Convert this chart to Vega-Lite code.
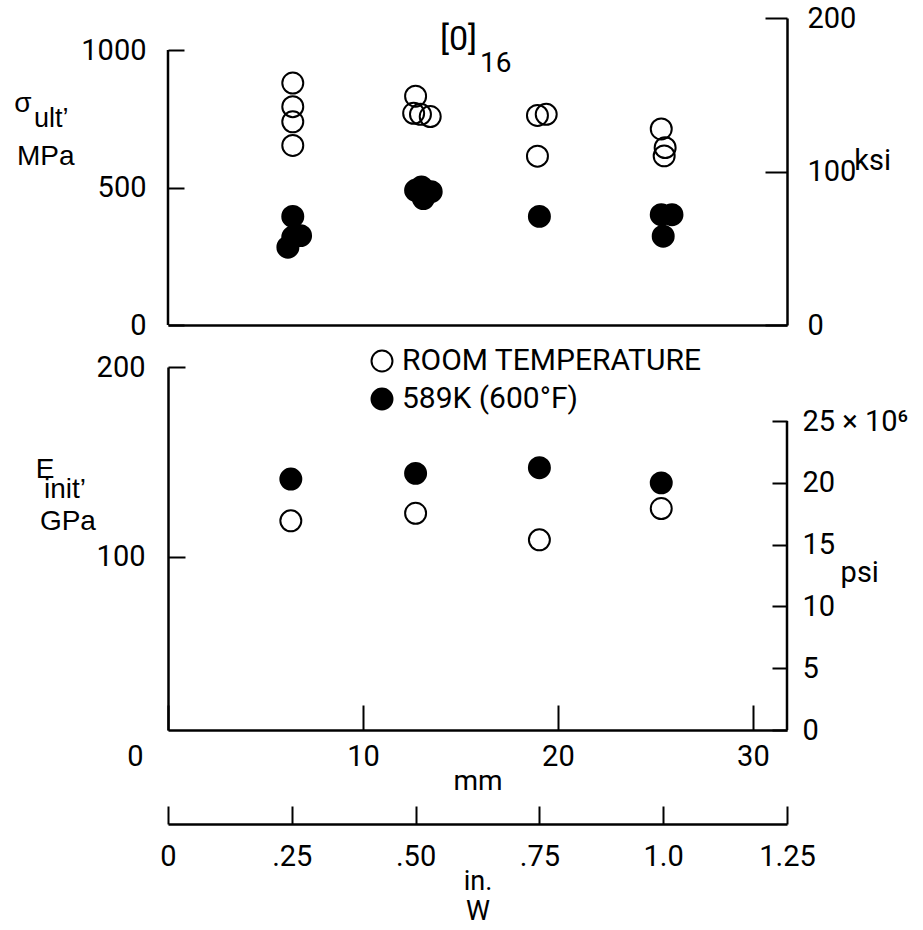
{
  "$schema": "https://vega.github.io/schema/vega-lite/v6.json",
  "padding": {"left": 14, "top": 4, "right": 5, "bottom": 2},
  "bounds": "flush",
  "spacing": 42,
  "resolve": {"legend": {"fill": "independent"}},
  "config": {
    "view": {"stroke": null},
    "font": "Roboto, sans-serif",
    "axis": {
      "grid": false,
      "domainColor": "black",
      "domainWidth": 2.5,
      "tickColor": "black",
      "tickWidth": 2,
      "labelColor": "black",
      "labelFont": "Roboto, sans-serif",
      "labelFontSize": 29,
      "labelFlush": false,
      "titleColor": "black",
      "titleFont": "Roboto, sans-serif",
      "titleFontSize": 28,
      "titleFontWeight": "normal"
    },
    "legend": {
      "labelFont": "Roboto, sans-serif",
      "labelFontSize": 30,
      "labelColor": "black"
    }
  },
  "datasets": {
    "sigma": [
      {"w": 6.4, "mpa": 880, "cond": "ROOM TEMPERATURE"},
      {"w": 6.4, "mpa": 794, "cond": "ROOM TEMPERATURE"},
      {"w": 6.4, "mpa": 739, "cond": "ROOM TEMPERATURE"},
      {"w": 6.4, "mpa": 653, "cond": "ROOM TEMPERATURE"},
      {"w": 12.7, "mpa": 832, "cond": "ROOM TEMPERATURE"},
      {"w": 12.6, "mpa": 770, "cond": "ROOM TEMPERATURE"},
      {"w": 12.95, "mpa": 766, "cond": "ROOM TEMPERATURE"},
      {"w": 13.45, "mpa": 758, "cond": "ROOM TEMPERATURE"},
      {"w": 18.95, "mpa": 762, "cond": "ROOM TEMPERATURE"},
      {"w": 19.4, "mpa": 766, "cond": "ROOM TEMPERATURE"},
      {"w": 18.95, "mpa": 614, "cond": "ROOM TEMPERATURE"},
      {"w": 25.3, "mpa": 713, "cond": "ROOM TEMPERATURE"},
      {"w": 25.5, "mpa": 645, "cond": "ROOM TEMPERATURE"},
      {"w": 25.45, "mpa": 615, "cond": "ROOM TEMPERATURE"},
      {"w": 6.4, "mpa": 395, "cond": "589K (600°F)"},
      {"w": 6.4, "mpa": 320, "cond": "589K (600°F)"},
      {"w": 6.15, "mpa": 283, "cond": "589K (600°F)"},
      {"w": 6.8, "mpa": 325, "cond": "589K (600°F)"},
      {"w": 12.7, "mpa": 490, "cond": "589K (600°F)"},
      {"w": 13.0, "mpa": 502, "cond": "589K (600°F)"},
      {"w": 13.5, "mpa": 485, "cond": "589K (600°F)"},
      {"w": 13.1, "mpa": 460, "cond": "589K (600°F)"},
      {"w": 19.05, "mpa": 395, "cond": "589K (600°F)"},
      {"w": 25.3, "mpa": 401, "cond": "589K (600°F)"},
      {"w": 25.85, "mpa": 401, "cond": "589K (600°F)"},
      {"w": 25.4, "mpa": 323, "cond": "589K (600°F)"}
    ],
    "modulus": [
      {"w": 6.3, "gpa": 119, "cond": "ROOM TEMPERATURE"},
      {"w": 12.7, "gpa": 123, "cond": "ROOM TEMPERATURE"},
      {"w": 19.05, "gpa": 109, "cond": "ROOM TEMPERATURE"},
      {"w": 25.3, "gpa": 125.5, "cond": "ROOM TEMPERATURE"},
      {"w": 6.3, "gpa": 141, "cond": "589K (600°F)"},
      {"w": 12.7, "gpa": 144, "cond": "589K (600°F)"},
      {"w": 19.05, "gpa": 147, "cond": "589K (600°F)"},
      {"w": 25.3, "gpa": 139, "cond": "589K (600°F)"}
    ],
    "inch": [{"inch": 0}, {"inch": 1.25}],
    "one": [{}]
  },
  "vconcat": [
    {
      "width": 619,
      "height": 307,
      "resolve": {"scale": {"y": "independent"}, "axis": {"y": "independent"}},
      "layer": [
        {
          "layer": [
            {
              "data": {"name": "one"},
              "mark": {"type": "rule", "color": "black", "strokeWidth": 2.5},
              "encoding": {
                "x": {"datum": 0, "type": "quantitative"},
                "y": {"datum": 0, "type": "quantitative"},
                "y2": {"datum": 1000}
              }
            },
            {
              "data": {"name": "sigma"},
              "mark": {"type": "point", "shape": "circle", "size": 440, "strokeWidth": 2, "stroke": "black", "opacity": 1, "filled": false},
              "encoding": {
                "x": {"field": "w", "type": "quantitative", "scale": {"domain": [0, 31.75], "nice": false, "zero": false},
                  "axis": {"title": null, "labels": false, "ticks": false, "domain": true}},
                "y": {"field": "mpa", "type": "quantitative", "scale": {"domain": [0, 1116.4], "nice": false, "zero": false},
                  "axis": {"title": null, "orient": "left", "values": [0, 500, 1000], "format": "d", "domain": false, "tickSize": -16, "labelPadding": 38}},
                "fill": {"field": "cond", "type": "nominal",
                  "scale": {"domain": ["ROOM TEMPERATURE", "589K (600°F)"], "range": ["transparent", "black"]},
                  "legend": null}
              }
            },
            {
              "data": {"name": "one"},
              "mark": {"type": "text", "font": "Liberation Sans, Arial, sans-serif", "fontSize": 28, "align": "center", "baseline": "alphabetic", "color": "black"},
              "encoding": {"x": {"datum": -7.44, "type": "quantitative"}, "y": {"datum": 774, "type": "quantitative"}, "text": {"value": "σ"}}
            },
            {
              "data": {"name": "one"},
              "mark": {"type": "text", "font": "Liberation Sans, Arial, sans-serif", "fontSize": 27, "align": "left", "baseline": "alphabetic", "color": "black"},
              "encoding": {"x": {"datum": -6.87, "type": "quantitative"}, "y": {"datum": 720, "type": "quantitative"}, "text": {"value": "ult’"}}
            },
            {
              "data": {"name": "one"},
              "mark": {"type": "text", "font": "Liberation Sans, Arial, sans-serif", "fontSize": 28, "align": "left", "baseline": "alphabetic", "color": "black"},
              "encoding": {"x": {"datum": -7.75, "type": "quantitative"}, "y": {"datum": 582, "type": "quantitative"}, "text": {"value": "MPa"}}
            },
            {
              "data": {"name": "one"},
              "mark": {"type": "text", "fontSize": 34, "align": "left", "baseline": "alphabetic", "color": "black"},
              "encoding": {"x": {"datum": 13.95, "type": "quantitative"}, "y": {"datum": 1000, "type": "quantitative"}, "text": {"value": "[0]"}}
            },
            {
              "data": {"name": "one"},
              "mark": {"type": "text", "fontSize": 28, "align": "left", "baseline": "alphabetic", "color": "black"},
              "encoding": {"x": {"datum": 16.0, "type": "quantitative"}, "y": {"datum": 920, "type": "quantitative"}, "text": {"value": "16"}}
            },
            {
              "data": {"name": "one"},
              "mark": {"type": "text", "fontSize": 29, "align": "left", "baseline": "alphabetic", "color": "black"},
              "encoding": {"x": {"datum": 35.2, "type": "quantitative"}, "y": {"datum": 564, "type": "quantitative"}, "text": {"value": "ksi"}}
            }
          ]
        },
        {
          "data": {"name": "one"},
          "mark": {"type": "rule", "color": "black", "strokeWidth": 0},
          "encoding": {
            "x": {"datum": 31.75, "type": "quantitative"},
            "y": {"datum": 0, "type": "quantitative", "scale": {"domain": [0, 200], "nice": false, "zero": false},
              "axis": {"title": null, "orient": "right", "values": [0, 100, 200], "domain": true, "tickSize": -22, "labelPadding": 42}},
            "y2": {"datum": 200}
          }
        }
      ]
    },
    {
      "width": 619,
      "height": 363,
      "resolve": {"scale": {"y": "independent"}, "axis": {"y": "independent"}},
      "layer": [
        {
          "layer": [
            {
              "data": {"name": "modulus"},
              "mark": {"type": "point", "shape": "circle", "size": 440, "strokeWidth": 2, "stroke": "black", "opacity": 1, "filled": false},
              "encoding": {
                "x": {"field": "w", "type": "quantitative", "scale": {"domain": [0, 31.75], "nice": false, "zero": false},
                  "axis": {"title": "mm", "values": [0, 10, 20, 30], "tickSize": -25, "labelPadding": 37, "titlePadding": -4,
                    "labelOffset": {"condition": {"test": "datum.value === 0", "value": -33}, "value": 0}}},
                "y": {"field": "gpa", "type": "quantitative", "scale": {"domain": [8.9, 200], "nice": false, "zero": false},
                  "axis": {"title": null, "orient": "left", "values": [100, 200], "domain": true, "tickSize": -17, "labelPadding": 40}},
                "fill": {"field": "cond", "type": "nominal",
                  "scale": {"domain": ["ROOM TEMPERATURE", "589K (600°F)"], "range": ["transparent", "black"]},
                  "legend": {"title": null, "orient": "none", "legendX": 199, "legendY": -21, "symbolType": "circle", "symbolSize": 440,
                    "symbolStrokeColor": "black", "symbolStrokeWidth": 2, "labelFontSize": 30, "labelLimit": 500, "rowPadding": 8, "labelOffset": 5}}
              }
            },
            {
              "data": {"name": "one"},
              "mark": {"type": "text", "font": "Liberation Sans, Arial, sans-serif", "fontSize": 28, "align": "center", "baseline": "alphabetic", "color": "black"},
              "encoding": {"x": {"datum": -6.31, "type": "quantitative"}, "y": {"datum": 141.5, "type": "quantitative"}, "text": {"value": "E"}}
            },
            {
              "data": {"name": "one"},
              "mark": {"type": "text", "font": "Liberation Sans, Arial, sans-serif", "fontSize": 28, "align": "left", "baseline": "alphabetic", "color": "black"},
              "encoding": {"x": {"datum": -6.36, "type": "quantitative"}, "y": {"datum": 131, "type": "quantitative"}, "text": {"value": "init’"}}
            },
            {
              "data": {"name": "one"},
              "mark": {"type": "text", "font": "Liberation Sans, Arial, sans-serif", "fontSize": 28, "align": "left", "baseline": "alphabetic", "color": "black"},
              "encoding": {"x": {"datum": -6.57, "type": "quantitative"}, "y": {"datum": 114.2, "type": "quantitative"}, "text": {"value": "GPa"}}
            },
            {
              "data": {"name": "one"},
              "mark": {"type": "text", "fontSize": 29, "align": "left", "baseline": "alphabetic", "color": "black"},
              "encoding": {"x": {"datum": 34.5, "type": "quantitative"}, "y": {"datum": 86.8, "type": "quantitative"}, "text": {"value": "psi"}}
            }
          ]
        },
        {
          "data": {"name": "one"},
          "mark": {"type": "rule", "color": "black", "strokeWidth": 2.5},
          "encoding": {
            "x": {"datum": 31.75, "type": "quantitative"},
            "y": {"datum": 0, "type": "quantitative", "scale": {"domain": [0, 29.37], "nice": false, "zero": false},
              "axis": {"title": null, "orient": "right", "values": [0, 5, 10, 15, 20, 25], "domain": false, "tickSize": -15, "labelPadding": 30,
                "labelExpr": "datum.value === 25 ? '25 × 10⁶' : datum.label"}},
            "y2": {"datum": 25}
          }
        }
      ]
    },
    {
      "width": 619,
      "height": 52,
      "data": {"name": "inch"},
      "mark": {"type": "point", "opacity": 0},
      "encoding": {
        "x": {"field": "inch", "type": "quantitative", "scale": {"domain": [0, 1.25], "nice": false, "zero": false},
          "axis": {"title": ["in.", "W"], "values": [0, 0.25, 0.5, 0.75, 1, 1.25], "tickSize": -18, "labelPadding": 36, "titlePadding": -3, "titleLineHeight": 30, "titleFontSize": 27,
            "labelExpr": "datum.value === 0 ? '0' : datum.value === 0.25 ? '.25' : datum.value === 0.5 ? '.50' : datum.value === 0.75 ? '.75' : datum.value === 1 ? '1.0' : '1.25'"}}
      }
    }
  ]
}
